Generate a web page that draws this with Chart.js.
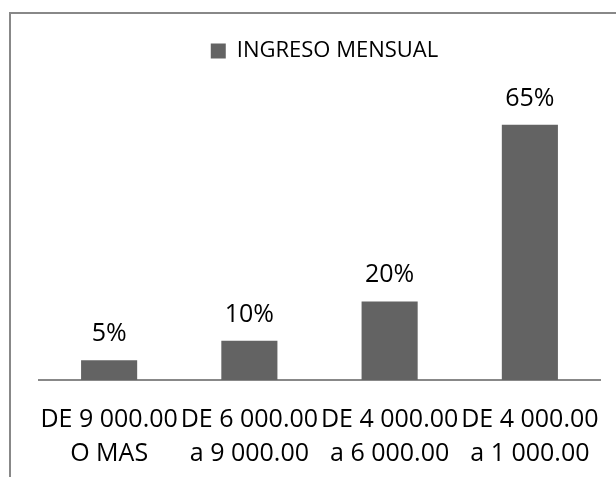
<!DOCTYPE html>
<html>
<head>
<meta charset="utf-8">
<script src="https://cdn.jsdelivr.net/npm/chart.js@4"></script>
<style>
html, body { margin: 0; padding: 0; background: #fff; overflow: hidden; }
#wrap { width: 616px; height: 477px; position: relative; }
</style>
</head>
<body>
<div id="wrap"><canvas id="ingresoChart"></canvas></div>
<script>
// datos
var categorias = [
    ['DE 9 000.00', 'O MAS'],
    ['DE 6 000.00', 'a 9 000.00'],
    ['DE 4 000.00', 'a 6 000.00'],
    ['DE 4 000.00', 'a 1 000.00']
];
var porcentajes = [5, 10, 20, 65];
var serieNombre = 'INGRESO MENSUAL';
var ejeMax = 70;

var gris = '#636363';
var borde = '#888888';
var fuente = "'Open Sans', sans-serif";

// marco del grafico (recortado como en la imagen)
var marco = {
    id: 'marco',
    beforeDraw: function(chart) {
        var ctx = chart.ctx;
        ctx.save();
        ctx.strokeStyle = borde;
        ctx.lineWidth = 2;
        ctx.beginPath();
        ctx.moveTo(10, chart.height);
        ctx.lineTo(10, 13);
        ctx.lineTo(chart.width, 13);
        ctx.stroke();
        ctx.restore();
    }
};

// espacio bajo la leyenda, y leyenda un poco a la derecha
var leyendaAjuste = {
    id: 'leyendaAjuste',
    afterInit: function(chart) {
        var fit = chart.legend.fit;
        chart.legend.fit = function() {
            fit.bind(chart.legend)();
            this.height += 33;
        };
    },
    afterLayout: function(chart) {
        chart.legend.left += 5;
        chart.legend.right += 5;
    }
};

// porcentajes encima de las barras
var etiquetas = {
    id: 'etiquetas',
    afterDatasetsDraw: function(chart) {
        var ctx = chart.ctx;
        var meta = chart.getDatasetMeta(0);
        ctx.save();
        ctx.font = '25px ' + fuente;
        ctx.fillStyle = '#000';
        ctx.textAlign = 'center';
        ctx.textBaseline = 'alphabetic';
        meta.data.forEach(function(bar, i) {
            ctx.fillText(porcentajes[i] + '%', bar.x, bar.y - 19);
        });
        ctx.restore();
    }
};

var chart1 = new Chart(document.getElementById('ingresoChart'), {
    type: 'bar',
    data: {
        labels: categorias,
        datasets: [{
            label: serieNombre,
            data: porcentajes,
            backgroundColor: gris,
            barPercentage: 0.4,
            categoryPercentage: 1.0
        }]
    },
    options: {
        responsive: true,
        maintainAspectRatio: false,
        animation: false,
        layout: { padding: { top: 30, left: 39, right: 16, bottom: 0 } },
        plugins: {
            legend: {
                position: 'top',
                labels: {
                    boxWidth: 15,
                    boxHeight: 15,
                    padding: 10,
                    color: '#000',
                    font: { family: fuente, size: 22 }
                }
            },
            tooltip: { enabled: false }
        },
        scales: {
            x: {
                grid: { display: false, drawTicks: false },
                border: { color: borde, width: 2 },
                ticks: {
                    color: '#000',
                    padding: 23,
                    autoSkip: false,
                    maxRotation: 0,
                    minRotation: 0,
                    font: { family: fuente, size: 25, lineHeight: 1.36 }
                },
                afterFit: function(scale) {
                    scale.height = 97;
                    scale.paddingLeft = 0;
                    scale.paddingRight = 0;
                }
            },
            y: { display: false, min: 0, max: ejeMax }
        }
    },
    plugins: [marco, leyendaAjuste, etiquetas]
});
</script>
</body>
</html>
